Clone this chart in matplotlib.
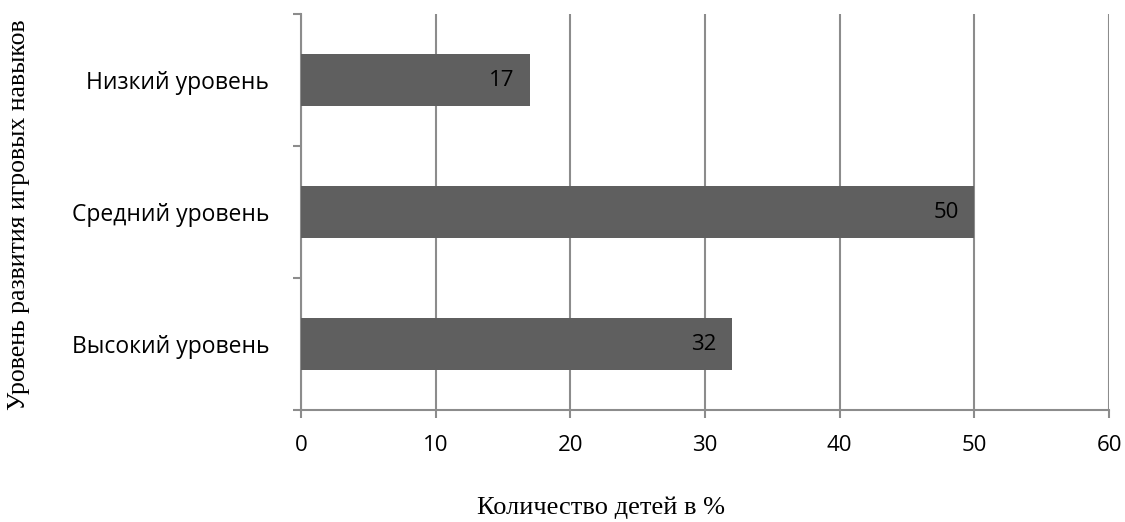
import numpy as np
import matplotlib.pyplot as plt

categories = ['Высокий уровень', 'Средний уровень', 'Низкий уровень']
values = [32, 50, 17]
xticks = [0, 10, 20, 30, 40, 50, 60]

grid_c = '#8c8c8c'
bar_c = '#5f5f5f'

fig = plt.figure(figsize=(11.25, 5.22), dpi=100)
ax = fig.add_axes([301/1125, 1 - 410/522, (1109-301)/1125, (410-14)/522])

pos = np.arange(len(categories))
bars = ax.barh(pos, values, height=0.4, color=bar_c, zorder=3)

for b, v in zip(bars, values):
    ax.annotate(str(v), (b.get_width(), b.get_y() + b.get_height()/2),
                xytext=(-11, 0), textcoords='offset points',
                ha='right', va='center', fontsize=16, fontfamily='Open Sans',
                color='black', zorder=4)

ax.set_xlim(0, 60)
ax.set_ylim(-0.5, 2.5)
ax.set_xticks(xticks)
ax.set_xticklabels([str(t) for t in xticks], fontfamily='Open Sans', fontsize=16)
ax.xaxis.grid(True, color=grid_c, linewidth=1.5, zorder=0)

# category labels centred, tick marks on category boundaries
ax.set_yticks(pos)
ax.set_yticklabels(categories, fontfamily='Open Sans', fontsize=16.5)
ax.set_yticks([-0.5, 0.5, 1.5, 2.5], minor=True)
ax.tick_params(axis='y', which='major', length=0, pad=23)
ax.tick_params(axis='y', which='minor', length=6, width=1.5, color=grid_c)
ax.tick_params(axis='x', length=6, width=1.5, color=grid_c, pad=12)

for s in ['top', 'right']:
    ax.spines[s].set_visible(False)
for s in ['left', 'bottom']:
    ax.spines[s].set_color(grid_c)
    ax.spines[s].set_linewidth(1.5)

fig.text(601/1125, 1 - 508/522, 'Количество детей в %',
         ha='center', va='center', fontfamily='Liberation Serif', fontsize=19)
fig.text(19/1125, 1 - 215/522, 'Уровень развития игровых навыков', rotation=90,
         ha='center', va='center', fontfamily='Liberation Serif', fontsize=18.5)

plt.savefig('out.png', dpi=100)
